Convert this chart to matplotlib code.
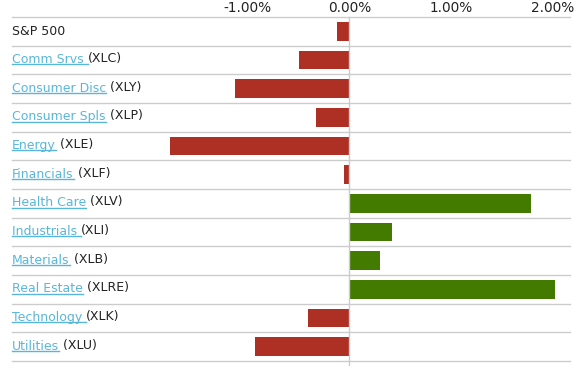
import matplotlib
matplotlib.use("Agg")
import matplotlib.pyplot as plt
from matplotlib.lines import Line2D

names = ["S&P 500", "Comm Srvs ", "Consumer Disc", "Consumer Spls", "Energy",
         "Financials", "Health Care", "Industrials ", "Materials", "Real Estate",
         "Technology ", "Utilities"]
tickers = ["", "(XLC)", "(XLY)", "(XLP)", "(XLE)", "(XLF)", "(XLV)", "(XLI)",
           "(XLB)", "(XLRE)", "(XLK)", "(XLU)"]
values = [-0.12, -0.50, -1.13, -0.33, -1.77, -0.05, 1.79, 0.42, 0.30, 2.03, -0.41, -0.93]
xticks = [-1.0, 0.0, 1.0, 2.0]
xticklabels = ["-1.00%", "0.00%", "1.00%", "2.00%"]

RED = "#ae2f23"
GREEN = "#437a00"
LINK = "#5ab6d8"
DARK = "#222222"
GRID = "#cccccc"

W, H = 580, 375
fig = plt.figure(figsize=(W / 100, H / 100), dpi=100)
left_px, right_px, top_px, bot_px = 12, 570, 17, 361
ax = fig.add_axes([left_px / W, 1 - bot_px / H, (right_px - left_px) / W, (bot_px - top_px) / H])

scale = 101.5
zero_px = 349.3
ax.set_xlim(-(zero_px - left_px) / scale, (right_px - zero_px) / scale)
n = len(values)
ax.set_ylim(n - 0.5, -0.5)

colors = [GREEN if v >= 0 else RED for v in values]
ax.barh(range(n), values, height=0.66, color=colors, zorder=2)

for k in range(n + 1):
    ax.axhline(k - 0.5, color=GRID, lw=1.0, zorder=1, clip_on=False)
ax.axvline(0, ymin=-0.012, ymax=1, color=GRID, lw=1.0, zorder=3, clip_on=False)

for s in ax.spines.values():
    s.set_visible(False)
ax.set_yticks([])
ax.xaxis.tick_top()
ax.set_xticks(xticks)
ax.set_xticklabels(xticklabels, fontsize=9.8, color=DARK)
ax.tick_params(axis="x", length=0, pad=1.2)

fs = 9
txts = []
for i, (nm, tk) in enumerate(zip(names, tickers)):
    if tk == "":
        t = ax.text(0, i, nm, transform=ax.get_yaxis_transform(), fontsize=fs,
                    color=DARK, va="center", ha="left")
        txts.append(None)
    else:
        t = ax.text(0, i - 0.02, nm, transform=ax.get_yaxis_transform(), fontsize=fs,
                    color=LINK, va="center", ha="left")
        ax.annotate(" " + tk if not nm.endswith(" ") else tk, xy=(1, 0), xycoords=t,
                    xytext=(0, 1), textcoords="offset pixels",
                    va="bottom", ha="left", fontsize=fs, color=DARK)
        txts.append(t)

fig.canvas.draw()
r = fig.canvas.get_renderer()
for t in txts:
    if t is None:
        continue
    bb = t.get_window_extent(r)
    y = bb.y0 + 1.5
    fig.add_artist(Line2D([bb.x0 / W, bb.x1 / W], [y / H, y / H],
                          transform=fig.transFigure, color=LINK, lw=1.0))

fig.savefig("out.png", dpi=100)
